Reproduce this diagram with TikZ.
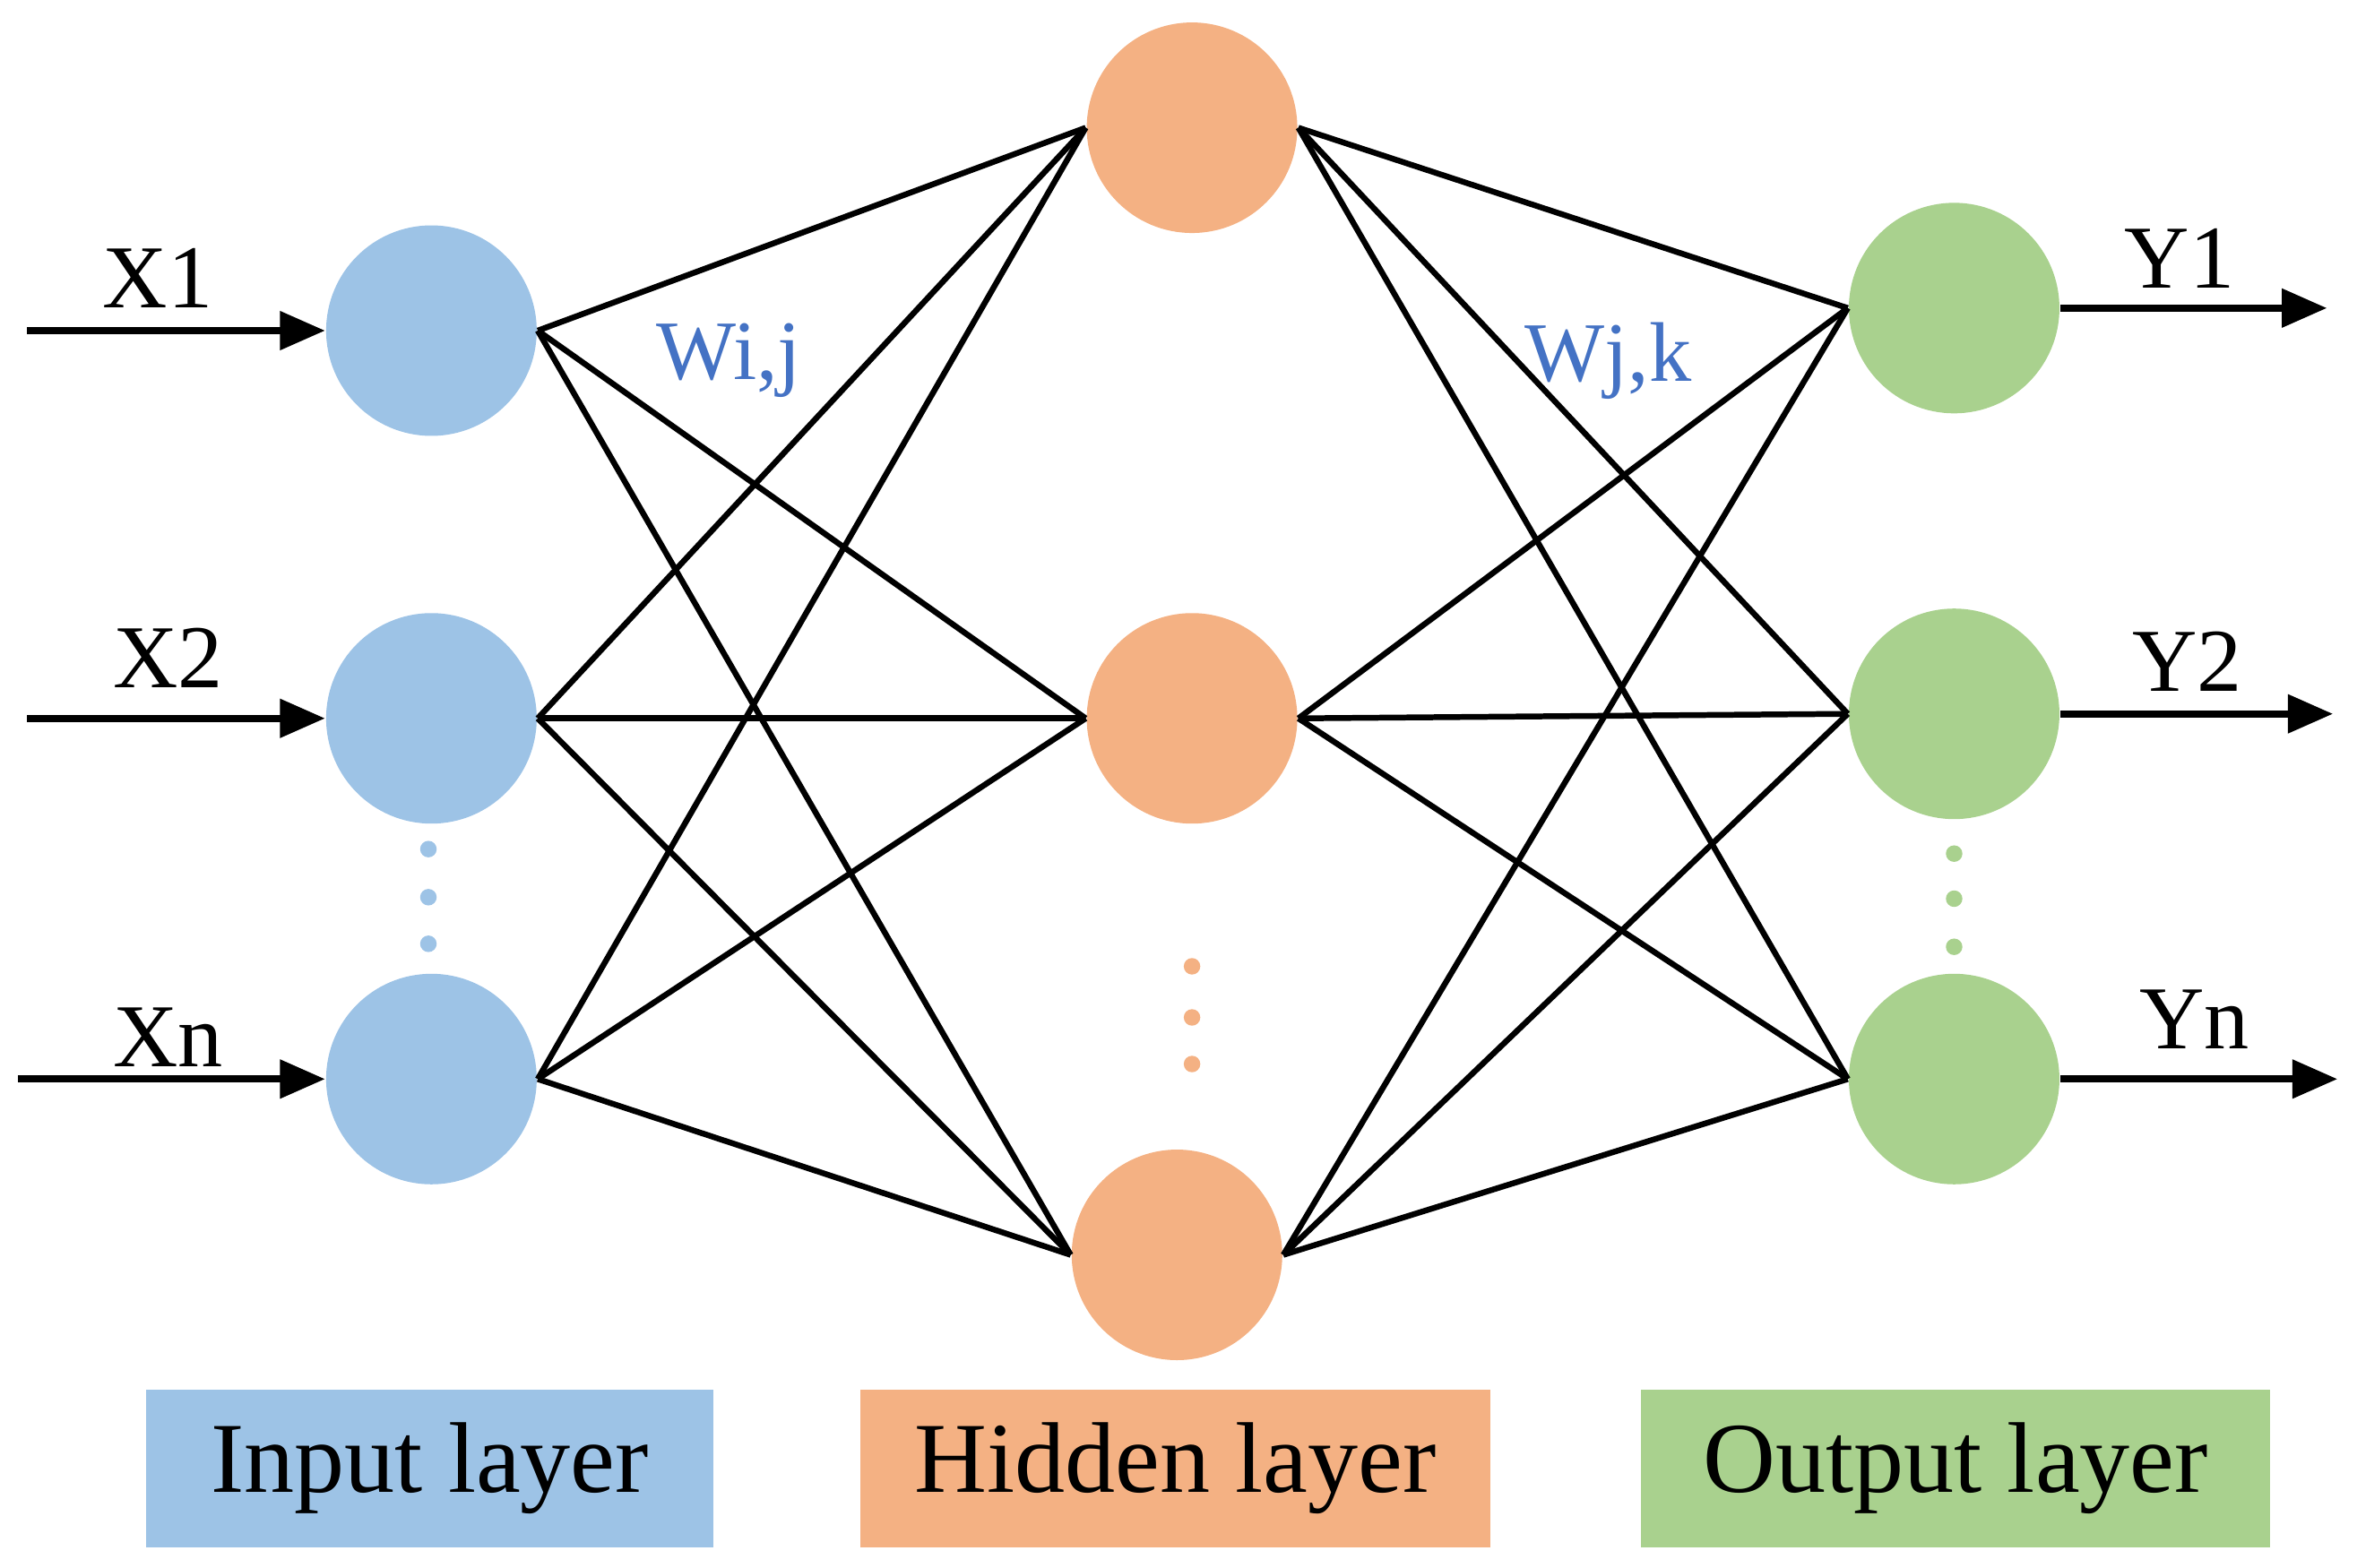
\documentclass[tikz,border=0pt]{standalone}
\usepackage{fontspec}
\setmainfont{Liberation Serif}
\usetikzlibrary{arrows.meta}
\definecolor{cin}{RGB}{157,195,230}
\definecolor{chid}{RGB}{244,177,131}
\definecolor{cout}{RGB}{169,209,142}
\definecolor{wcol}{RGB}{68,114,196}
\begin{document}
\begin{tikzpicture}[x=0.01cm,y=-0.01cm,
  neuron/.style={circle,minimum size=1.4cm,inner sep=0},
  conn/.style={line width=1.1pt},
  arr/.style={line width=1.3pt,-{Triangle[length=0.3cm,width=0.25cm]}},
  lab/.style={font=\fontsize{17}{17}\selectfont},
  wlab/.style={font=\fontsize{16}{16}\selectfont,text=wcol},
  dot/.style={circle,inner sep=0,minimum size=0.11cm},
  legend/.style={minimum width=3.77cm,minimum height=1.05cm,font=\fontsize{19}{19}\selectfont}]
\useasboundingbox (0,0) rectangle (1568,1043);
\node[neuron,fill=cin] (i1) at (287,220) {};
\node[neuron,fill=cin] (i2) at (287,478) {};
\node[neuron,fill=cin] (i3) at (287,718) {};
\node[neuron,fill=chid] (h1) at (793,85) {};
\node[neuron,fill=chid] (h2) at (793,478) {};
\node[neuron,fill=chid] (h3) at (783,835) {};
\node[neuron,fill=cout] (o1) at (1300,205) {};
\node[neuron,fill=cout] (o2) at (1300,475) {};
\node[neuron,fill=cout] (o3) at (1300,718) {};
\foreach \a in {i1,i2,i3}{\foreach \b in {h1,h2,h3}{\draw[conn] (\a.east) -- (\b.west);}}
\foreach \a in {h1,h2,h3}{\foreach \b in {o1,o2,o3}{\draw[conn] (\a.east) -- (\b.west);}}
\coordinate (xs1) at (18,220); \coordinate (xs2) at (18,478); \coordinate (xs3) at (12,718);
\coordinate (ye1) at (1548,205); \coordinate (ye2) at (1552,475); \coordinate (ye3) at (1555,718);
\draw[arr] (xs1) -- (i1.west); \draw[arr] (xs2) -- (i2.west); \draw[arr] (xs3) -- (i3.west);
\draw[arr] (o1.east) -- (ye1); \draw[arr] (o2.east) -- (ye2); \draw[arr] (o3.east) -- (ye3);
\node[lab] (lx1) at (105,185) {X1};
\node[lab] (lx2) at (112,438) {X2};
\node[lab] (lx3) at (112,690) {Xn};
\node[lab] (ly1) at (1450,172) {Y1};
\node[lab] (ly2) at (1455,440) {Y2};
\node[lab] (ly3) at (1460,678) {Yn};
\node[wlab] (w1) at (485,240) {Wi,j};
\node[wlab] (w2) at (1070,240) {Wj,k};
\foreach \y [count=\k] in {565,597,628}{\node[dot,fill=cin] (di\k) at (285,\y) {};}
\foreach \y [count=\k] in {643,677,708}{\node[dot,fill=chid] (dh\k) at (793,\y) {};}
\foreach \y [count=\k] in {568,598,630}{\node[dot,fill=cout] (do\k) at (1300,\y) {};}
\node[legend,fill=cin] (L1) at (286,977) {Input layer};
\node[legend,fill=chid,minimum width=4.19cm] (L2) at (782,977) {Hidden layer};
\node[legend,fill=cout,minimum width=4.18cm] (L3) at (1301,977) {Output layer};
\end{tikzpicture}
\end{document}
